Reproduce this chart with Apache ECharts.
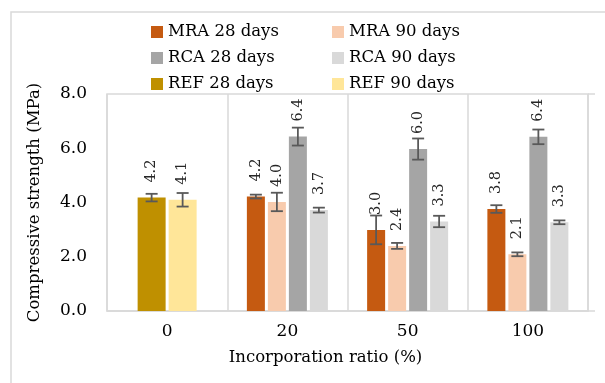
<!DOCTYPE html>
<html><head><meta charset="utf-8">
<script src="https://cdn.jsdelivr.net/npm/echarts@6/dist/echarts.min.js"></script>
<style>html,body{margin:0;padding:0;background:#fff}#c{width:605px;height:383px}</style>
</head><body><div id="c"></div>
<script>
const categories = ['0', '20', '50', '100'];
const seriesNames = ['MRA 28 days', 'MRA 90 days', 'RCA 28 days', 'RCA 90 days', 'REF 28 days', 'REF 90 days'];
const mra28 = [null, 4.22, 2.99, 3.76];
const mra28Err = [null, 0.07, 0.53, 0.14];
const mra90 = [null, 4.02, 2.40, 2.09];
const mra90Err = [null, 0.34, 0.11, 0.07];
const rca28 = [null, 6.43, 5.97, 6.42];
const rca28Err = [null, 0.33, 0.39, 0.27];
const rca90 = [null, 3.72, 3.30, 3.27];
const rca90Err = [null, 0.09, 0.21, 0.07];
const ref28 = [4.18, null, null, null];
const ref28Err = [0.14, null, null, null];
const ref90 = [4.10, null, null, null];
const ref90Err = [0.25, null, null, null];
const yTicks = [0, 2, 4, 6, 8];

const FONT = 'DejaVu Serif';
const colors = ['#C55A11', '#F8CBAD', '#A5A5A5', '#D9D9D9', '#BF9000', '#FFE699'];
const BW = 18, GAP = 3, BW_REF = 28;
const pitch = BW + GAP;
const offs4 = [-1.5 * pitch, -0.5 * pitch, 0.5 * pitch, 1.5 * pitch];
const offs2 = [-(BW_REF + GAP) / 2, (BW_REF + GAP) / 2];

function barSeries(name, data, color, axisIdx, width) {
  return {
    name: name, type: 'bar', xAxisIndex: axisIdx, data: data,
    barWidth: width, barGap: (GAP / width * 100) + '%',
    itemStyle: { color: color },
    label: {
      show: true, position: 'top', rotate: 90, distance: 15,
      align: 'left', verticalAlign: 'middle',
      fontFamily: FONT, fontSize: 14.5, color: '#262626',
      formatter: p => p.value == null ? '' : p.value.toFixed(1)
    }
  };
}
function errSeries(values, errs, offset, axisIdx) {
  const data = [];
  values.forEach((v, i) => { if (v != null) data.push([i, v - errs[i], v + errs[i]]); });
  return {
    type: 'custom', xAxisIndex: axisIdx, z: 5, silent: true,
    data: data,
    renderItem: function (params, api) {
      const i = api.value(0);
      const lo = api.coord([i, api.value(1)]);
      const hi = api.coord([i, api.value(2)]);
      const cx = lo[0] + offset;
      const s = { stroke: '#595959', lineWidth: 1.8 };
      return {
        type: 'group', children: [
          { type: 'line', shape: { x1: cx, y1: lo[1], x2: cx, y2: hi[1] }, style: s },
          { type: 'line', shape: { x1: cx - 6, y1: lo[1], x2: cx + 6, y2: lo[1] }, style: s },
          { type: 'line', shape: { x1: cx - 6, y1: hi[1], x2: cx + 6, y2: hi[1] }, style: s }
        ]
      };
    }
  };
}

const chart = echarts.init(document.getElementById('c'), null, { renderer: 'canvas' });
const legendText = { fontFamily: FONT, fontSize: 16.5, color: '#000', lineHeight: 18 };
chart.setOption({
  animation: false,
  color: colors,
  graphic: [{ type: 'rect', shape: { x: 11, y: 12, width: 600, height: 380 },
    style: { fill: 'none', stroke: '#d9d9d9', lineWidth: 1.5 }, silent: true }],
  legend: [
    { orient: 'vertical', left: 146, top: 18, itemWidth: 12, itemHeight: 12, itemGap: 8,
      icon: 'rect', data: [seriesNames[0], seriesNames[2], seriesNames[4]], textStyle: legendText },
    { orient: 'vertical', left: 327, top: 18, itemWidth: 12, itemHeight: 12, itemGap: 8,
      icon: 'rect', data: [seriesNames[1], seriesNames[3], seriesNames[5]], textStyle: legendText }
  ],
  grid: { left: 107, top: 94, width: 481, height: 217, show: true, borderColor: '#d9d9d9', borderWidth: 1.5 },
  xAxis: [
    { type: 'category', data: categories,
      axisLine: { show: true, lineStyle: { color: '#d9d9d9', width: 1.5 } },
      axisTick: { show: false },
      splitLine: { show: true, lineStyle: { color: '#d9d9d9', width: 1.5 } },
      axisLabel: { fontFamily: FONT, fontSize: 17, color: '#000', margin: 12 },
      name: 'Incorporation ratio (%)', nameLocation: 'middle', nameGap: 38,
      nameTextStyle: { fontFamily: FONT, fontSize: 16.5, color: '#000', padding: [0, 44, 0, 0] } },
    { type: 'category', data: categories, show: false }
  ],
  yAxis: [
    { type: 'value', min: 0, max: 8, interval: 2,
      axisLine: { show: false }, axisTick: { show: false }, splitLine: { show: false },
      axisLabel: { fontFamily: FONT, fontSize: 17, color: '#000', margin: 20,
        formatter: v => v.toFixed(1) },
      name: 'Compressive strength (MPa)', nameLocation: 'middle', nameGap: 64,
      nameTextStyle: { fontFamily: FONT, fontSize: 16.5, color: '#000' } },
    { type: 'value', min: 0, max: 8, interval: 8, axisLabel: { show: false },
      axisLine: { show: false }, splitLine: { show: false },
      axisTick: { show: true, length: 7, lineStyle: { color: '#d9d9d9', width: 1.5 } } }
  ],
  series: [
    barSeries(seriesNames[0], mra28, colors[0], 0, BW),
    barSeries(seriesNames[1], mra90, colors[1], 0, BW),
    barSeries(seriesNames[2], rca28, colors[2], 0, BW),
    barSeries(seriesNames[3], rca90, colors[3], 0, BW),
    barSeries(seriesNames[4], ref28, colors[4], 1, BW_REF),
    barSeries(seriesNames[5], ref90, colors[5], 1, BW_REF),
    errSeries(mra28, mra28Err, offs4[0], 0),
    errSeries(mra90, mra90Err, offs4[1], 0),
    errSeries(rca28, rca28Err, offs4[2], 0),
    errSeries(rca90, rca90Err, offs4[3], 0),
    errSeries(ref28, ref28Err, offs2[0], 1),
    errSeries(ref90, ref90Err, offs2[1], 1)
  ]
});
</script></body></html>
